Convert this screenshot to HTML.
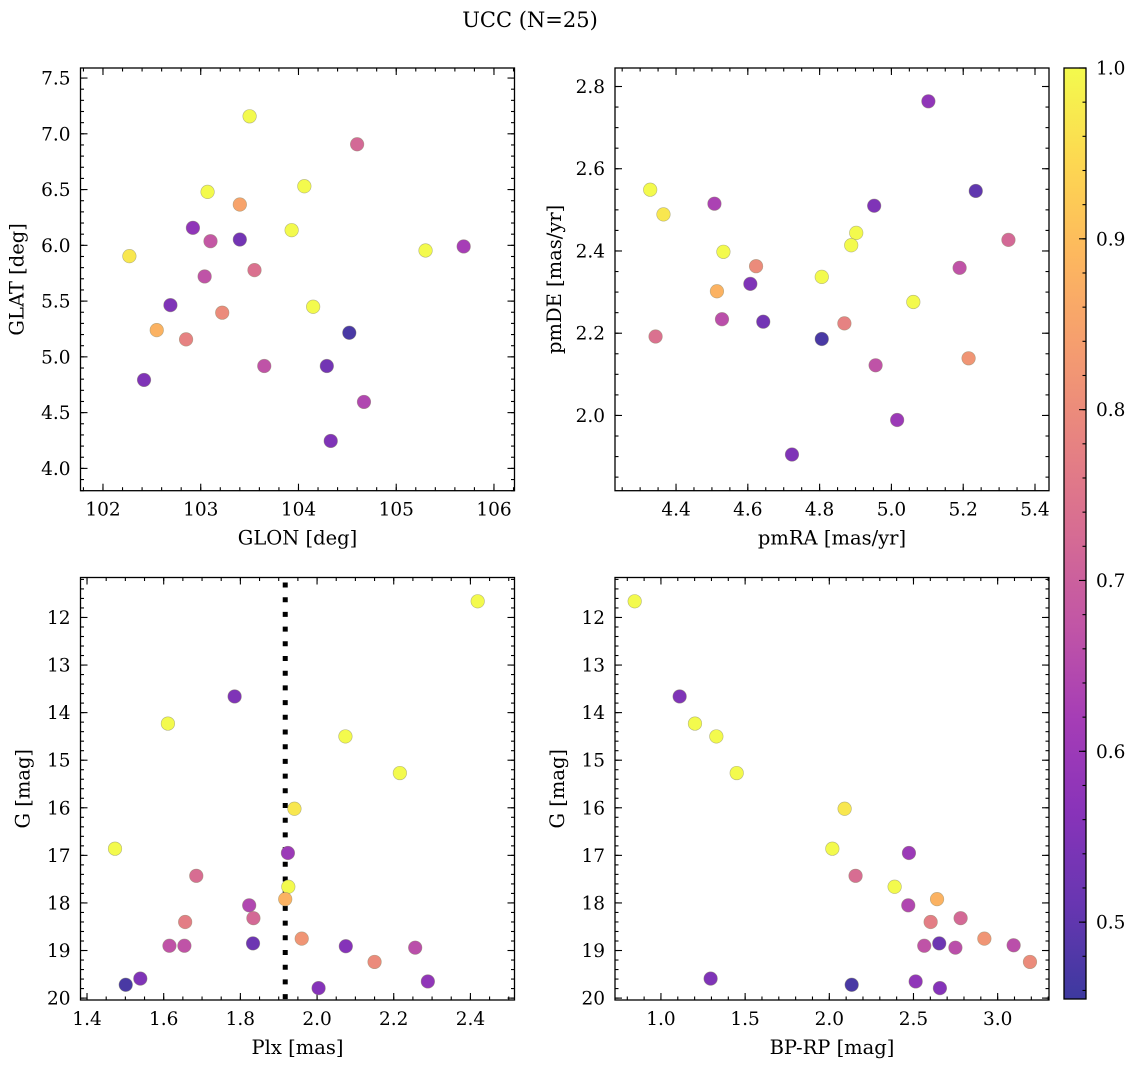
<!DOCTYPE html>
<html><head><meta charset="utf-8">
<style>
html,body{margin:0;padding:0;background:#fff;}
svg{display:block;font-family:"DejaVu Serif","Liberation Serif",serif;}
</style></head>
<body>
<svg id="fig" width="1136" height="1067" viewBox="0 0 1136 1067" xmlns="http://www.w3.org/2000/svg">
<rect width="1136" height="1067" fill="#fff"/>
<text x="530" y="27" font-size="21" text-anchor="middle">UCC (N=25)</text>
</svg>
<script>
// ---- data ----
const p1Glon = [103.50,104.60,103.07,104.06,103.40,102.92,103.93,103.10,103.40,102.27,105.30,105.69,103.55,103.04,102.69,104.15,103.22,102.55,104.52,102.85,103.65,104.29,102.42,104.67,104.33];
const p1Glat = [7.157,6.906,6.479,6.530,6.366,6.157,6.136,6.037,6.052,5.903,5.954,5.990,5.778,5.721,5.464,5.449,5.396,5.240,5.216,5.157,4.918,4.918,4.793,4.596,4.246];
const p1Prob = [1.0,0.72,1.0,1.0,0.85,0.58,1.0,0.68,0.53,0.97,1.0,0.62,0.74,0.67,0.55,1.0,0.80,0.88,0.47,0.78,0.67,0.53,0.55,0.64,0.55];

const p2PmRA = [5.103,4.328,4.365,4.507,4.952,5.235,5.326,4.902,4.888,4.532,4.623,5.190,4.607,4.806,4.514,5.061,4.528,4.643,4.869,4.343,4.806,5.215,4.956,5.016,4.723];
const p2PmDE = [2.764,2.549,2.489,2.515,2.510,2.546,2.427,2.444,2.414,2.398,2.363,2.359,2.320,2.337,2.302,2.276,2.234,2.228,2.224,2.192,2.186,2.139,2.122,1.989,1.905];
const p2Prob = [0.58,1.0,0.97,0.63,0.55,0.50,0.72,1.0,1.0,1.0,0.80,0.67,0.55,1.0,0.88,1.0,0.66,0.53,0.78,0.74,0.47,0.82,0.67,0.60,0.55];

const p3Plx = [2.419,1.785,1.611,2.074,2.216,1.941,1.473,1.924,1.685,1.925,1.917,1.823,1.834,1.656,1.960,1.615,1.654,1.833,2.075,2.256,2.150,1.539,1.501,2.289,2.004];
const p3G = [11.66,13.66,14.23,14.50,15.27,16.02,16.86,16.95,17.43,17.66,17.92,18.05,18.32,18.40,18.75,18.90,18.90,18.85,18.91,18.94,19.24,19.59,19.72,19.65,19.79];
const p3Prob = [1.0,0.55,1.0,1.0,1.0,0.97,1.0,0.60,0.73,1.0,0.88,0.64,0.72,0.77,0.82,0.67,0.67,0.52,0.56,0.66,0.80,0.55,0.47,0.58,0.56];
const plxLine = 1.917;

const p4BpRp = [0.844,1.111,1.202,1.329,1.450,2.091,2.018,2.473,2.156,2.388,2.640,2.469,2.780,2.602,2.921,2.564,2.749,2.653,3.095,3.192,1.295,2.133,2.513,2.657];
const p4G = [11.66,13.66,14.23,14.50,15.27,16.02,16.86,16.95,17.43,17.66,17.92,18.05,18.32,18.40,18.75,18.90,18.94,18.85,18.89,19.24,19.59,19.72,19.65,19.79];
const p4Prob = [1.0,0.55,1.0,1.0,1.0,0.97,1.0,0.60,0.73,1.0,0.88,0.64,0.72,0.77,0.82,0.67,0.66,0.52,0.66,0.80,0.55,0.47,0.58,0.56];

const p1XTicks = ["102","103","104","105","106"];
const p1YTicks = ["4.0","4.5","5.0","5.5","6.0","6.5","7.0","7.5"];
const p2XTicks = ["4.4","4.6","4.8","5.0","5.2","5.4"];
const p2YTicks = ["2.0","2.2","2.4","2.6","2.8"];
const p3XTicks = ["1.4","1.6","1.8","2.0","2.2","2.4"];
const gTicks = ["12","13","14","15","16","17","18","19","20"];
const p4XTicks = ["1.0","1.5","2.0","2.5","3.0"];
const cbTicks = ["0.5","0.6","0.7","0.8","0.9","1.0"];
const cbMin = 0.455, cbMax = 1.0;

// ---- helpers ----
const NS = "http://www.w3.org/2000/svg";
const svg = document.getElementById("fig");
const TF = 18.5, LF = 19.5;
function mk(tag, attrs, parent){ const e=document.createElementNS(NS,tag); for(const k in attrs) e.setAttribute(k,attrs[k]); (parent||svg).appendChild(e); return e; }
const PL = ["#0d0887","#41049d","#6a00a8","#8f0da4","#b12a90","#cc4778","#e16462","#f2844b","#fca636","#fcce25","#f0f921"];
function hex(h){return [parseInt(h.substr(1,2),16),parseInt(h.substr(3,2),16),parseInt(h.substr(5,2),16)];}
function cmap(v){
  let t=(v-cbMin)/(cbMax-cbMin); t=Math.max(0,Math.min(1,t));
  const f=t*10, i=Math.min(9,Math.floor(f)), r=f-i;
  const a=hex(PL[i]), b=hex(PL[i+1]);
  const c=a.map((x,k)=>Math.round((x+(b[k]-x)*r)*0.8+255*0.2));
  return "rgb("+c.join(",")+")";
}

function panel(o){
  const g = mk("g",{});
  
  
  const X = v => o.x0 + (v-o.xmin)/(o.xmax-o.xmin)*(o.x1-o.x0);
  const Y = o.yinv ? (v => o.y0 + (v-o.ymin)/(o.ymax-o.ymin)*(o.y1-o.y0))
                   : (v => o.y1 - (v-o.ymin)/(o.ymax-o.ymin)*(o.y1-o.y0));
  const tg = mk("g",{stroke:"#000","stroke-width":1.1},g);
  function xt(v,len){ const x=X(v); if(x<o.x0-0.5||x>o.x1+0.5) return;
    mk("line",{x1:x,x2:x,y1:o.y1,y2:o.y1-len},tg); mk("line",{x1:x,x2:x,y1:o.y0,y2:o.y0+len},tg); }
  function yt(v,len){ const y=Y(v); if(y<o.y0-0.5||y>o.y1+0.5) return;
    mk("line",{x1:o.x0,x2:o.x0+len,y1:y,y2:y},tg); mk("line",{x1:o.x1,x2:o.x1-len,y1:y,y2:y},tg); }
  for(let v=Math.ceil(o.xmin/o.xminor)*o.xminor; v<=o.xmax; v+=o.xminor) xt(v,3.5);
  for(let v=Math.ceil(o.ymin/o.yminor)*o.yminor; v<=o.ymax; v+=o.yminor) yt(v,3.5);
  o.xticks.forEach(s=>{ const v=parseFloat(s); xt(v,7);
    const t=mk("text",{x:X(v),y:o.y1+25,"font-size":TF,"text-anchor":"middle"},g); t.textContent=s;
      });
  o.yticks.forEach(s=>{ const v=parseFloat(s); yt(v,7);
    const t=mk("text",{x:o.x0-10,y:Y(v)+6.5,"font-size":TF,"text-anchor":"end"},g); t.textContent=s;
      });
  const xl=mk("text",{x:(o.x0+o.x1)/2,y:o.y1+54,"font-size":LF,"text-anchor":"middle"},g); xl.textContent=o.xlabel;
   
  const yc=(o.y0+o.y1)/2, yx=o.x0-o.ylabOff;
  const yl=mk("text",{x:yx,y:yc,"font-size":LF,"text-anchor":"middle",transform:"rotate(-90 "+yx+" "+yc+")"},g); yl.textContent=o.ylabel;
   
  if(o.vline!==undefined){
    const ln=mk("line",{x1:X(o.vline),x2:X(o.vline),y1:o.y0+5,y2:o.y1,stroke:"#000","stroke-width":5,"stroke-dasharray":"5 9.7"},g);
     
  }
  o.xs.forEach((xv,i)=>{
    const c=mk("circle",{cx:X(xv),cy:Y(o.ys[i]),r:6.8,fill:cmap(o.cs[i]),stroke:"#8a8a6a","stroke-opacity":0.6,"stroke-width":0.6},g);
    
    
  });
  const fr=mk("rect",{x:o.x0,y:o.y0,width:o.x1-o.x0,height:o.y1-o.y0,fill:"none",stroke:"#000","stroke-width":1.3},g);
   
}

panel({name:"glon-glat-panel",x0:80.5,x1:514.5,y0:68,y1:490.7,xmin:101.77,xmax:106.21,ymin:3.80,ymax:7.59,
  xminor:0.2,yminor:0.1,xticks:p1XTicks,yticks:p1YTicks,xlabel:"GLON [deg]",ylabel:"GLAT [deg]",ylabOff:57,xs:p1Glon,ys:p1Glat,cs:p1Prob});
panel({name:"pm-panel",x0:615,x1:1049,y0:68,y1:490.7,xmin:4.230,xmax:5.439,ymin:1.817,ymax:2.845,
  xminor:0.05,yminor:0.05,xticks:p2XTicks,yticks:p2YTicks,xlabel:"pmRA [mas/yr]",ylabel:"pmDE [mas/yr]",ylabOff:54,xs:p2PmRA,ys:p2PmDE,cs:p2Prob});
panel({name:"plx-g-panel",x0:80.5,x1:514.5,y0:577.5,y1:1000,xmin:1.383,xmax:2.515,ymin:11.16,ymax:20.04,yinv:true,
  xminor:0.05,yminor:0.2,xticks:p3XTicks,yticks:gTicks,xlabel:"Plx [mas]",ylabel:"G [mag]",ylabOff:51,xs:p3Plx,ys:p3G,cs:p3Prob,vline:plxLine});
panel({name:"cmd-panel",x0:615,x1:1049,y0:577.5,y1:1000,xmin:0.727,xmax:3.305,ymin:11.16,ymax:20.04,yinv:true,
  xminor:0.1,yminor:0.2,xticks:p4XTicks,yticks:gTicks,xlabel:"BP-RP [mag]",ylabel:"G [mag]",ylabOff:51,xs:p4BpRp,ys:p4G,cs:p4Prob});

// colorbar
(function(){
  const x0=1064,x1=1086,y0=68,y1=999;
  const g=mk("g",{});
  
  
  const defs=mk("defs",{},g);
  const lg=mk("linearGradient",{id:"cbg",x1:0,y1:1,x2:0,y2:0},defs);
  for(let i=0;i<=20;i++){ const v=cbMin+(cbMax-cbMin)*i/20; mk("stop",{offset:(i/20),"stop-color":cmap(v)},lg); }
  mk("rect",{x:x0,y:y0,width:x1-x0,height:y1-y0,fill:"url(#cbg)"},g);
  const Y=v=>y1-(v-cbMin)/(cbMax-cbMin)*(y1-y0);
  for(let v=0.46; v<=1.0001; v+=0.02) mk("line",{x1:x1,x2:x1-3.5,y1:Y(v),y2:Y(v),stroke:"#000","stroke-width":1.1},g);
  cbTicks.forEach(s=>{ const v=parseFloat(s);
    mk("line",{x1:x1,x2:x1-7,y1:Y(v),y2:Y(v),stroke:"#000","stroke-width":1.1},g);
    const t=mk("text",{x:x1+10,y:Y(v)+6.5,"font-size":TF},g); t.textContent=s;
      });
  mk("rect",{x:x0,y:y0,width:x1-x0,height:y1-y0,fill:"none",stroke:"#000","stroke-width":1.3},g);
})();
</script>
</body></html>
